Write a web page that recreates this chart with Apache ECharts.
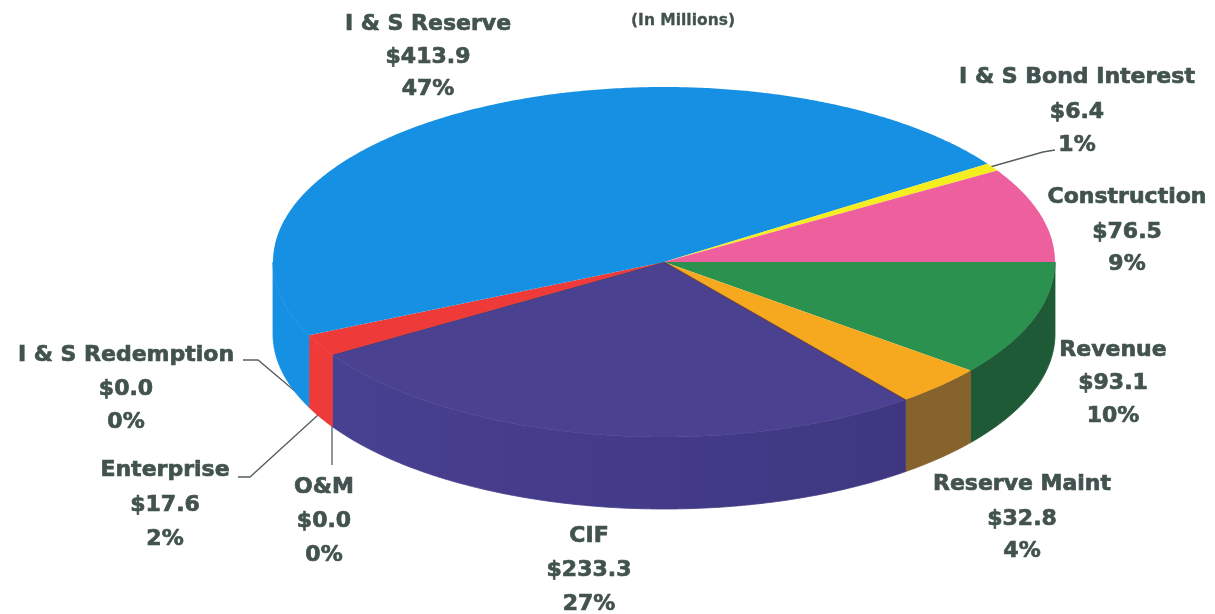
<!DOCTYPE html>
<html>
<head>
<meta charset="utf-8">
<style>html,body{margin:0;padding:0;background:#fff}#chart{width:1215px;height:614px}</style>
<script src="https://cdn.jsdelivr.net/npm/echarts@6/dist/echarts.min.js"></script>
</head>
<body>
<div id="chart"></div>
<script>
// Fund balances in millions, listed clockwise from the three o'clock position.
const funds = ['Revenue', 'Reserve Maint', 'CIF', 'O&M', 'Enterprise', 'I & S Redemption', 'I & S Reserve', 'I & S Bond Interest', 'Construction'];
const balances = [93.1, 32.8, 233.3, 0.0, 17.6, 0.0, 413.9, 6.4, 76.5];
const shares = ['10%', '4%', '27%', '0%', '2%', '0%', '47%', '1%', '9%'];

const topColors = ['#2a914e', '#f6a91f', '#4a4190', '#000000', '#ee3b3a', '#000000', '#1590e2', '#f4ee20', '#ee5f9e'];

// The CIF rim fades from the face colour on the left to a deeper shade on the right.
const cifWall = {
  type: 'linear', x: 0, y: 0, x2: 1, y2: 0,
  colorStops: [{ offset: 0, color: '#484090' }, { offset: 0.55, color: '#433b89' }, { offset: 1, color: '#3e3780' }]
};
const wallColors = ['#1f5a36', '#86632c', cifWall, '#000000', '#ee3b3a', '#000000', '#1590e2', '#f4ee20', '#ee5f9e'];

// Disc geometry: an ellipse for the top face and a drop for the rim.
const CX = 664, CY = 262, RX = 391, RY = 175, DEPTH = 72;

// Label anchors (centre x, middle y of each of the three lines) and leader polylines.
const labelCentres = [
  [1113, 350, 383, 416], [1022, 484, 519, 551], [589, 536, 570, 604],
  [324, 487, 521, 555], [165, 470, 505, 539], [126, 355, 389, 422],
  [428, 24, 57, 89], [1077, 77, 112, 145], [1127, 197, 232, 264]
];
const leaders = [
  [[1055, 150], [1043, 152], [990, 167]],
  [[243, 360], [258, 360], [296, 392]],
  [[238, 477], [250, 477], [318, 415]],
  [[332, 465], [332, 425]]
];

const total = balances.reduce((a, b) => a + b, 0);

function rimPoint(deg, drop) {
  const r = deg * Math.PI / 180;
  return [CX + RX * Math.cos(r), CY + drop + RY * Math.sin(r)];
}

function arc(from, to, drop) {
  const pts = [];
  const n = Math.max(2, Math.ceil((to - from) * 2));
  for (let i = 0; i <= n; i++) pts.push(rimPoint(from + (to - from) * i / n, drop));
  return pts;
}

function renderSlice(params, api) {
  const index = params.dataIndex;
  const value = api.value(0);
  if (!value) return { type: 'group', children: [] };
  let start = 0;
  for (let i = 0; i < index; i++) start += balances[i] / total * 360;
  const end = start + value / total * 360;
  const children = [];

  // The rim only shows along the front half of the disc.
  const wallFrom = Math.max(start, 0), wallTo = Math.min(end, 180);
  if (wallTo > wallFrom) {
    const upper = arc(wallFrom, wallTo, 0);
    const lower = arc(wallFrom, wallTo, DEPTH).reverse();
    children.push({
      type: 'polygon',
      shape: { points: upper.concat(lower) },
      style: { fill: wallColors[index], stroke: wallColors[index], lineWidth: 0.8 }
    });
  }
  children.push({
    type: 'polygon',
    shape: { points: [[CX, CY]].concat(arc(start, end, 0)) },
    style: { fill: topColors[index] }
  });
  // CIF carries a dark hairline along both of its radial edges.
  if (funds[index] === 'CIF') {
    children.push({
      type: 'polyline',
      shape: { points: [rimPoint(start, 0), [CX, CY], rimPoint(end, 0)] },
      style: { stroke: 'rgba(90,50,60,0.75)', lineWidth: 1.2, fill: 'none' }
    });
  }
  return { type: 'group', children };
}

const INK = '#42534f';
const FONT = '"DejaVu Sans", sans-serif';
const overlay = [];
funds.forEach((name, i) => {
  const [x, y1, y2, y3] = labelCentres[i];
  [name, '$' + balances[i].toFixed(1), shares[i]].forEach((line, k) => {
    overlay.push({
      type: 'text', x, y: [y1, y2, y3][k],
      style: {
        text: line, fill: INK, stroke: INK, lineWidth: 0.7,
        font: 'bold 22px ' + FONT, align: 'center', verticalAlign: 'middle'
      }
    });
  });
});
overlay.push({
  type: 'text', x: 683, y: 21,
  style: { text: '(In Millions)', fill: INK, stroke: INK, lineWidth: 0.3, font: 'bold 15.5px ' + FONT, align: 'center', verticalAlign: 'middle' }
});
leaders.forEach(points => {
  overlay.push({
    type: 'polyline',
    shape: { points },
    style: { stroke: '#555f5c', lineWidth: 1.3, fill: 'none' }
  });
});

const chart = echarts.init(document.getElementById('chart'), null, { renderer: 'canvas' });
chart.setOption({
  animation: false,
  backgroundColor: '#ffffff',
  series: [{
    type: 'custom',
    coordinateSystem: 'none',
    silent: true,
    data: balances.map(v => [v]),
    renderItem: renderSlice
  }],
  graphic: overlay
});
</script>
</body>
</html>
